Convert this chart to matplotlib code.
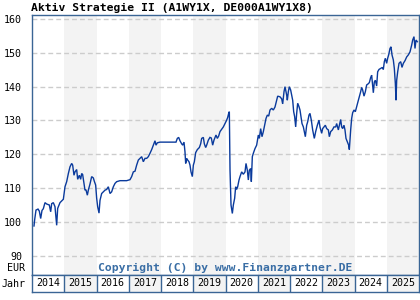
import matplotlib
matplotlib.use("Agg")
import matplotlib.pyplot as plt
import numpy as np

title = "Aktiv Strategie II (A1WY1X, DE000A1WY1X8)"
copyright_text = "Copyright (C) by www.Finanzpartner.DE"
years = list(range(2014, 2026))
y_ticks = [90, 100, 110, 120, 130, 140, 150, 160]

# decimal year offsets from 2014 and fund prices (EUR)
t_offsets = [
    0.062, 0.083, 0.124, 0.186, 0.227, 0.269, 0.310, 0.351, 0.403, 0.455,
    0.537, 0.579, 0.610, 0.661, 0.713, 0.765, 0.796, 0.868, 0.972, 1.023,
    1.075, 1.127, 1.178, 1.230, 1.261, 1.302, 1.333, 1.385, 1.416, 1.468,
    1.509, 1.540, 1.571, 1.612, 1.643, 1.674, 1.716, 1.747, 1.798, 1.850,
    1.902, 1.933, 1.974, 2.005, 2.036, 2.078, 2.109, 2.160, 2.212, 2.264,
    2.315, 2.367, 2.419, 2.470, 2.522, 2.574, 2.625, 2.729, 2.935, 3.039,
    3.090, 3.142, 3.194, 3.245, 3.297, 3.349, 3.401, 3.452, 3.504, 3.556,
    3.607, 3.659, 3.711, 3.762, 3.814, 3.845, 3.886, 3.969, 4.465, 4.506,
    4.548, 4.589, 4.641, 4.672, 4.713, 4.744, 4.765, 4.796, 4.827, 4.868,
    4.899, 4.930, 4.972, 5.003, 5.034, 5.075, 5.127, 5.189, 5.230, 5.261,
    5.313, 5.344, 5.385, 5.416, 5.468, 5.519, 5.561, 5.602, 5.643, 5.705,
    5.747, 5.788, 5.829, 5.881, 5.933, 5.984, 6.036, 6.067, 6.098, 6.119,
    6.140, 6.171, 6.212, 6.243, 6.284, 6.315, 6.346, 6.377, 6.419, 6.450,
    6.501, 6.553, 6.605, 6.636, 6.677, 6.708, 6.739, 6.780, 6.801, 6.832,
    6.863, 6.915, 6.966, 7.018, 7.049, 7.090, 7.132, 7.173, 7.214, 7.256,
    7.297, 7.339, 7.380, 7.432, 7.483, 7.535, 7.587, 7.618, 7.690, 7.742,
    7.773, 7.814, 7.845, 7.897, 7.917, 7.948, 7.979, 8.021, 8.052, 8.083,
    8.114, 8.145, 8.176, 8.207, 8.238, 8.279, 8.310, 8.341, 8.372, 8.414,
    8.445, 8.476, 8.517, 8.548, 8.589, 8.620, 8.661, 8.703, 8.754, 8.796,
    8.848, 8.899, 8.930, 8.982, 9.013, 9.054, 9.096, 9.137, 9.189, 9.220,
    9.261, 9.313, 9.364, 9.416, 9.447, 9.499, 9.530, 9.571, 9.602, 9.633,
    9.674, 9.705, 9.736, 9.778, 9.819, 9.840, 9.881, 9.912, 9.943, 9.985,
    10.026, 10.067, 10.109, 10.150, 10.191, 10.222, 10.253, 10.295, 10.336, 10.377,
    10.419, 10.460, 10.501, 10.532, 10.584, 10.615, 10.646, 10.687, 10.718, 10.760,
    10.811, 10.863, 10.894, 10.925, 10.956, 10.997, 11.028, 11.059, 11.101, 11.132,
    11.163, 11.204, 11.235, 11.266, 11.287, 11.308, 11.339, 11.380, 11.432, 11.473,
    11.514, 11.566, 11.618, 11.669, 11.721, 11.773, 11.804, 11.845, 11.876, 11.907,
    11.948,
]
prices = [
    98.8, 100.7, 103.5, 103.8, 103.2, 101.0, 103.4, 103.9, 105.7, 105.3,
    105.0, 103.0, 105.4, 105.7, 104.5, 99.0, 104.0, 105.7, 106.7, 110.4,
    111.9, 114.3, 116.3, 117.3, 116.8, 113.8, 114.8, 115.5, 112.6, 113.8,
    112.6, 114.3, 114.0, 111.4, 109.4, 109.5, 107.9, 109.4, 111.2, 113.4,
    113.0, 112.0, 110.9, 107.0, 104.5, 102.6, 106.4, 108.4, 108.9, 109.4,
    109.6, 110.4, 108.4, 108.9, 110.4, 111.4, 111.9, 112.2, 112.2, 112.5,
    113.4, 114.8, 115.0, 116.8, 118.3, 118.8, 119.3, 117.8, 118.8, 118.8,
    119.3, 120.3, 121.4, 122.7, 124.0, 122.7, 123.4, 123.6, 123.6, 124.7,
    125.0, 124.0, 123.1, 122.7, 123.6, 120.7, 117.3, 118.8, 118.3, 117.8,
    116.8, 114.8, 113.4, 116.8, 117.8, 120.5, 121.4, 122.0, 123.1, 124.7,
    125.0, 123.1, 122.0, 122.7, 124.2, 125.0, 124.8, 122.7, 124.2, 125.7,
    124.7, 125.4, 126.7, 127.4, 128.1, 129.1, 130.1, 130.9, 132.1, 132.6,
    115.3, 105.0, 102.5, 105.0, 107.0, 110.4, 109.6, 110.4, 112.4, 113.4,
    114.8, 114.1, 114.8, 117.3, 115.3, 112.4, 115.3, 115.8, 111.9, 119.3,
    120.3, 121.7, 122.7, 125.7, 124.7, 127.6, 125.2, 126.7, 128.6, 130.6,
    131.6, 131.3, 133.1, 133.6, 133.1, 134.0, 136.0, 137.2, 137.0, 136.4,
    134.9, 138.5, 140.0, 137.5, 136.0, 138.5, 140.0, 139.0, 137.5, 136.0,
    132.6, 131.1, 128.1, 132.1, 135.1, 134.1, 133.1, 131.1, 129.1, 128.1,
    126.7, 125.2, 128.6, 129.6, 131.6, 132.1, 130.1, 127.2, 124.7, 126.7,
    128.6, 130.1, 128.1, 126.2, 127.6, 128.1, 128.6, 127.6, 127.2, 125.2,
    126.7, 127.2, 128.1, 128.1, 129.1, 127.2, 128.6, 130.3, 128.1, 127.6,
    128.6, 127.2, 124.7, 123.7, 122.7, 121.4, 127.2, 130.6, 132.3, 133.1,
    132.6, 134.1, 135.6, 137.0, 138.5, 139.8, 139.0, 137.2, 138.5, 140.5,
    140.8, 141.2, 142.7, 143.4, 138.2, 141.4, 141.9, 140.2, 144.4, 145.1,
    145.4, 145.7, 145.1, 147.4, 148.4, 146.9, 148.4, 149.4, 151.3, 151.8,
    149.4, 147.9, 145.4, 141.0, 136.0, 141.9, 144.4, 146.9, 147.4, 145.7,
    146.9, 147.7, 148.8, 149.4, 150.3, 152.3, 153.8, 154.8, 151.3, 153.8,
    153.3,
]

dates = [2014 + d for d in t_offsets]

W, H = 420, 300
frame_col = "#3a6595"
line_col = "#0a3a9c"
band_col = "#f3f3f3"
grid_col = "#cccccc"
mono = "DejaVu Sans Mono"

fig = plt.figure(figsize=(W / 100, H / 100), dpi=100)
fig.patch.set_facecolor("white")

L, R, T, B = 32, 419, 15, 275
ax = fig.add_axes([L / W, 1 - B / H, (R - L) / W, (B - T) / H])
ax.set_xlim(2014, 2026)
ax.set_ylim(84.3, 161.2)
for yr in years:
    if yr % 2 == 1:
        ax.axvspan(yr, yr + 1, color=band_col, lw=0, zorder=0)
for yv in y_ticks:
    gl = ax.axhline(yv, color=grid_col, lw=1.0, zorder=1)
    gl.set_dashes((3.5, 2.2))
ax.plot(dates, prices, color=line_col, lw=1.0, zorder=3, solid_joinstyle="miter")
ax.set_xticks([])
ax.set_yticks(y_ticks)
ax.set_yticklabels([str(v) for v in y_ticks], family=mono, fontsize=7.2)
ax.tick_params(axis="y", length=0, pad=7)
for s in ax.spines.values():
    s.set_color(frame_col)
    s.set_linewidth(1.0)

ax.text(0.5, (B - 268) / (B - T), copyright_text, transform=ax.transAxes,
        ha="center", va="center", family=mono, fontweight="bold",
        fontsize=8.2, color="#3a6ea5", zorder=4)

fig.text(31 / W, 1 - 8 / H, title, ha="left", va="center", family=mono,
         fontweight="bold", fontsize=8.2, color="black")
fig.text(25 / W, 1 - 268 / H, "EUR", ha="right", va="center", family=mono,
         fontsize=7.2)
fig.text(26 / W, 1 - 284 / H, "Jahr", ha="right", va="center", family=mono,
         fontsize=7.2)

YB = 292
ax2 = fig.add_axes([L / W, 1 - YB / H, (R - L) / W, (YB - B) / H])
ax2.set_xlim(2014, 2026)
ax2.set_ylim(0, 1)
for yr in years:
    if yr % 2 == 1:
        ax2.axvspan(yr, yr + 1, color=band_col, lw=0, zorder=0)
    if yr > 2014:
        ax2.axvline(yr, color=frame_col, lw=1.0)
    ax2.text(yr + 0.5, 0.5, str(yr), ha="center", va="center", family=mono,
             fontsize=7.2)
ax2.set_xticks([])
ax2.set_yticks([])
for s in ax2.spines.values():
    s.set_color(frame_col)
    s.set_linewidth(1.0)

fig.savefig("out.png", dpi=100)
